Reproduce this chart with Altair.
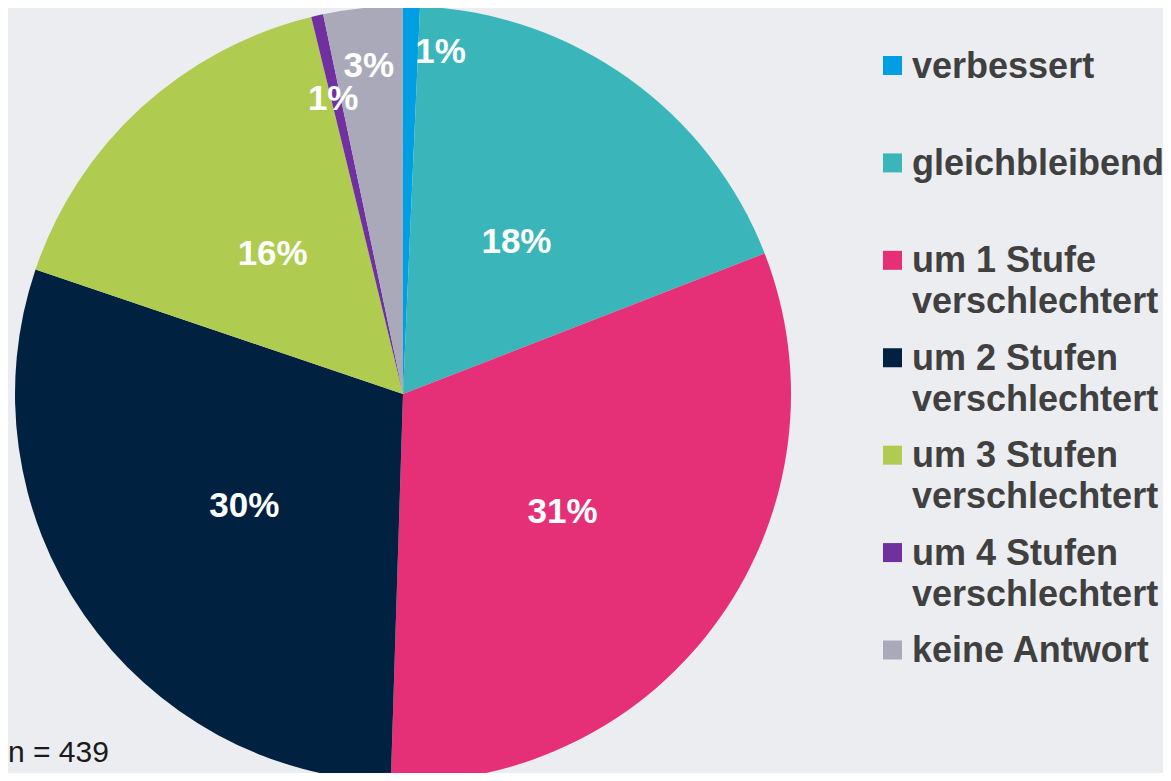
import altair as alt
import pandas as pd

categories = ["verbessert", "gleichbleibend", "um 1 Stufe verschlechtert",
              "um 2 Stufen verschlechtert", "um 3 Stufen verschlechtert",
              "um 4 Stufen verschlechtert", "keine Antwort"]
legend_labels = ["verbessert", "gleichbleibend", "um 1 Stufe\nverschlechtert",
                 "um 2 Stufen\nverschlechtert", "um 3 Stufen\nverschlechtert",
                 "um 4 Stufen\nverschlechtert", "keine Antwort"]
percent = [0.7, 18.4, 31.4, 29.7, 16.0, 0.5, 3.3]
colors = ["#009FE3", "#3AB6BA", "#E53077", "#00213F", "#AFCB50", "#7030A0", "#A9A9B9"]
note = "n = 439"

df = pd.DataFrame({
    "cat": categories,
    "legend": legend_labels,
    "pct": percent,
    "order": list(range(len(categories))),
})

FONT = "Arial, Liberation Sans, sans-serif"
CX, CY, R = 395, 386, 388

base = alt.Chart(df).transform_calculate(label="round(datum.pct) + '%'")

color = alt.Color("cat:N", scale=alt.Scale(domain=categories, range=colors), legend=None)
theta = alt.Theta("pct:Q", stack=True)
order = alt.Order("order:Q")

pie = base.mark_arc(outerRadius=R, stroke=None).encode(
    theta=theta, color=color, order=order,
    x=alt.value(CX), y=alt.value(CY),
)

def label_layer(idx, radius, dx=0, dy=0):
    return base.transform_calculate(
        t=f"datum.order == {idx} ? datum.label : ''"
    ).mark_text(
        radius=radius, font=FONT, fontSize=35, fontWeight="bold", color="white",
        align="center", baseline="middle", dx=dx, dy=dy,
    ).encode(
        theta=theta, order=order, text="t:N",
        x=alt.value(CX), y=alt.value(CY),
    )

labels = [
    label_layer(0, 344, dx=30, dy=2),
    label_layer(1, 193, dx=1, dy=5),
    label_layer(2, 193, dx=2, dy=7),
    label_layer(3, 193, dx=0, dy=2),
    label_layer(4, 193, dx=0, dy=2),
    label_layer(5, 302, dx=-3),
    label_layer(6, 330),
]

yscale = alt.Scale(domain=[0, 6], range=[57.5, 642])

leg_sym = alt.Chart(df).mark_square(size=361, opacity=1).encode(
    x=alt.value(884.5),
    y=alt.Y("order:Q", scale=yscale, axis=None),
    color=color,
)
leg_text = alt.Chart(df).mark_text(
    align="left", baseline="alphabetic", lineBreak="\n", lineHeight=41,
    font=FONT, fontSize=36, fontWeight="bold", color="#404040", dy=12,
).encode(
    x=alt.value(904),
    y=alt.Y("order:Q", scale=yscale, axis=None),
    text="legend:N",
)

note_text = alt.Chart(pd.DataFrame({"note": [note]})).mark_text(
    align="left", baseline="alphabetic", font=FONT, fontSize=30, color="#1a1a1a",
).encode(x=alt.value(0), y=alt.value(754), text="note:N")

chart = alt.layer(
    pie, *labels, leg_sym, leg_text, note_text
).properties(
    width=1155, height=765, padding=0, autosize="none",
    background="#ECEDF0",
).configure_view(stroke=None)

chart.save("out.html", embed_options={"renderer": "svg", "actions": False})
